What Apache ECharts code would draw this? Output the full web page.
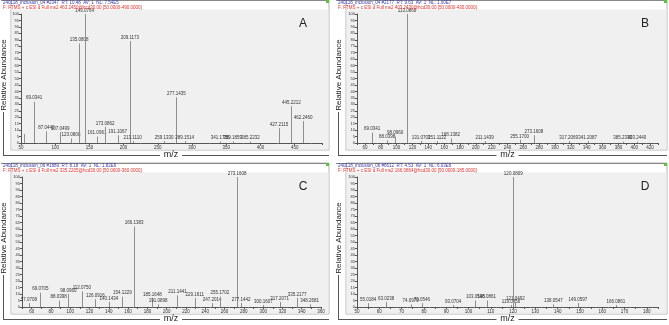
<!DOCTYPE html>
<html>
<head>
<meta charset="utf-8">
<script src="https://cdn.jsdelivr.net/npm/echarts@6/dist/echarts.min.js"></script>
<style>
  html, body { margin: 0; padding: 0; background: #fff; }
  #main { width: 669px; height: 325px; }
</style>
</head>
<body>
<div id="main"></div>
<script>
// panel A
const mzA = [55.06, 69.0341, 87.0440, 107.0499, 123.0808, 135.0808, 143.0764, 161.0961, 173.0862, 191.1067, 209.1173, 213.1110, 259.1330, 277.1435, 289.1514, 341.1756, 359.1859, 385.2232, 427.2115, 445.2212, 462.2460];
const abA = [7, 32, 9, 8.5, 3.5, 77, 100, 5, 12.5, 6, 79, 1.5, 1.5, 35.5, 1.5, 1.2, 1.2, 1.2, 11.5, 28.5, 17];
const lbA = ['', '69.0341', '87.0440', '107.0499', '123.0808', '135.0808', '143.0764', '161.0961', '173.0862', '191.1067', '209.1173', '213.1110', '259.1330', '277.1435', '289.1514', '341.1756', '359.1859', '385.2232', '427.2115', '445.2212', '462.2460'];

// panel B
const mzB = [69.0341, 88.0398, 98.0960, 113.0860, 131.0703, 151.1122, 168.1382, 211.1439, 255.1700, 273.1608, 317.2069, 341.2087, 385.2333, 403.2440];
const abB = [8, 2, 5, 100, 1.5, 1.5, 3.5, 1.5, 2.5, 6, 1.5, 1.5, 1, 1];
const lbB = ['69.0341', '88.0398', '98.0960', '113.0860', '131.0703', '151.1122', '168.1382', '211.1439', '255.1700', '273.1608', '317.2069', '341.2087', '385.2333', '403.2440'];

// panel C
const mzC = [57.0708, 69.0705, 88.0398, 98.0960, 112.0750, 126.0916, 140.1434, 154.1229, 166.1383, 185.1648, 191.0898, 211.1441, 229.1611, 247.2014, 255.1702, 273.1608, 277.1442, 300.1607, 317.2071, 335.2177, 348.2681];
const abC = [3, 11, 5, 10, 12, 6, 4, 8, 62, 7, 2, 9, 7, 3, 8, 100, 3, 1.5, 4, 7, 2];
const lbC = ['57.0708', '69.0705', '88.0398', '98.0960', '112.0750', '126.0916', '140.1434', '154.1229', '166.1383', '185.1648', '191.0898', '211.1441', '229.1611', '247.2014', '255.1702', '273.1608', '277.1442', '300.1607', '317.2071', '335.2177', '348.2681'];

// panel D
const mzD = [55.0184, 63.0238, 74.0970, 79.0546, 93.0704, 103.0546, 108.0861, 119.0856, 120.0809, 121.0492, 138.0547, 149.0597, 166.0861];
const abD = [3, 4, 2, 3, 1.5, 5, 5, 1.5, 100, 4, 2, 3, 1.5];
const lbD = ['55.0184', '63.0238', '74.0970', '79.0546', '93.0704', '103.0546', '108.0861', '119.0856', '120.0809', '121.0492', '138.0547', '149.0597', '166.0861'];

const headers = [
    ['240118_inclusion_04 #2347  RT: 10.48  AV: 1  NL: 7.54E5', 'F: FTMS + c ESI d Full ms2 463.2450@hcd30.00 [50.0000-490.0000]'],
    ['240118_inclusion_04 #2177  RT: 9.63  AV: 1  NL: 1.00E7', 'F: FTMS + c ESI d Full ms2 403.2430@hcd30.00 [50.0000-430.0000]'],
    ['240118_inclusion_06 #1889  RT: 8.18  AV: 1  NL: 1.82E6', 'F: FTMS + c ESI d Full ms2 335.2205@hcd30.00 [50.0000-360.0000]'],
    ['240118_inclusion_06 #6612  RT: 4.53  AV: 1  NL: 6.03E6', 'F: FTMS + c ESI d Full ms2 166.0864@hcd30.00 [50.0000-185.0000]']
];
const letters = ['A', 'B', 'C', 'D'];

const FONT = 'Liberation Sans';
let chart = echarts.init(document.getElementById('main'))

// panel frames: x, y (top of header), width, grey bottom, letter x
const frames = [
    { x: 11, y: 0, w: 318, bottom: 150, lx: 303 },
    { x: 346, y: 0, w: 321, bottom: 150, lx: 645 },
    { x: 11, y: 163, w: 318, bottom: 314, lx: 303 },
    { x: 346, y: 163, w: 321, bottom: 314, lx: 645 }
];
const grids = [
    { left: 21, top: 14, width: 301, height: 129 },
    { left: 357, top: 14, width: 301, height: 129 },
    { left: 22, top: 177, width: 299, height: 130 },
    { left: 357, top: 177, width: 301, height: 130 }
];

function xAx(gi, min, max, interval, every, first) {
    return {
        type: 'value', gridIndex: gi, min: min, max: max, interval: interval,
        axisLine: { lineStyle: { color: '#555', width: 1 } },
        axisTick: { length: 2, lineStyle: { color: '#555' } },
        minorTick: { show: true, splitNumber: 2, length: 1, lineStyle: { color: '#777' } },
        splitLine: { show: false },
        axisLabel: {
            fontSize: 4.5, color: '#333', margin: 2, fontFamily: FONT, interval: 0,
            formatter: v => (v >= first && v % every === 0) ? String(v) : ''
        }
    }
}
function yAx(gi) {
    return {
        type: 'value', gridIndex: gi, min: 0, max: 100, interval: 5,
        axisLine: { show: true, lineStyle: { color: '#555', width: 1 } },
        axisTick: { show: true, length: 2, lineStyle: { color: '#555' } },
        splitLine: { show: false },
        axisLabel: { fontSize: 4, color: '#333', margin: 2, fontFamily: FONT, interval: 0 }
    }
}
function peaks(gi, mz, ab, lb) {
    return {
        type: 'custom', xAxisIndex: gi, yAxisIndex: gi,
        data: mz.map((m, i) => [m, ab[i]]),
        renderItem: function (params, api) {
            const p0 = api.coord([api.value(0), 0]);
            const p1 = api.coord([api.value(0), api.value(1)]);
            const children = [{
                type: 'line',
                shape: { x1: Math.round(p0[0]) + 0.5, y1: p0[1], x2: Math.round(p1[0]) + 0.5, y2: p1[1] },
                style: { stroke: '#8f8f8f', lineWidth: 1 }
            }];
            const t = lb[params.dataIndex];
            if (t) {
                children.push({
                    type: 'text',
                    style: {
                        text: t, x: p1[0], y: p1[1] - 1, align: 'center', verticalAlign: 'bottom',
                        fontSize: 4.5, fill: '#333', fontFamily: FONT
                    }
                });
            }
            return { type: 'group', children: children };
        }
    }
}

let graphic = [];
frames.forEach((f, i) => {
    graphic.push({ type: 'rect', z: -2, shape: { x: f.x, y: f.y, width: f.w, height: f.bottom - f.y }, style: { fill: '#fff', stroke: '#b5b5b5', lineWidth: 1 } });
    graphic.push({ type: 'rect', z: -1, shape: { x: f.x + 0.5, y: f.y + 9.5, width: f.w - 1, height: f.bottom - f.y - 10 }, style: { fill: '#f0f0f0' } });
    graphic.push({ type: 'line', z: -1, shape: { x1: f.x - 10, y1: f.y + 0.5, x2: f.x + f.w, y2: f.y + 0.5 }, style: { stroke: '#888', lineWidth: 1 } });
    graphic.push({ type: 'rect', z: 5, shape: { x: f.x + f.w - 3, y: f.y, width: 3, height: 3 }, style: { fill: '#5cc43c' } });
    graphic.push({ type: 'text', z: 5, style: { text: headers[i][0], x: f.x - 8, y: f.y + 3, verticalAlign: 'middle', fontSize: 4.5, fill: '#3a3aa8', fontFamily: FONT } });
    graphic.push({ type: 'text', z: 5, style: { text: headers[i][1], x: f.x - 8, y: f.y + 7.5, verticalAlign: 'middle', fontSize: 4.5, fill: '#e0302a', fontFamily: FONT } });
    graphic.push({ type: 'text', z: 5, style: { text: letters[i], x: f.lx, y: f.y + 24, align: 'center', verticalAlign: 'middle', fontSize: 12, fill: '#222', fontFamily: FONT } });
    // y title and bracket
    const lx = f.x - 8;
    const ymid = (i < 2) ? 75 : 238;
    const base = f.bottom + 5;
    graphic.push({ type: 'text', z: 5, rotation: Math.PI / 2, x: lx + 0.5, y: ymid, style: { text: 'Relative Abundance', align: 'center', verticalAlign: 'middle', fontSize: 8, fill: '#222', fontFamily: FONT } });
    graphic.push({ type: 'line', z: 5, shape: { x1: lx + 0.5, y1: ymid + 37, x2: lx + 0.5, y2: base }, style: { stroke: '#555', lineWidth: 1 } });
    graphic.push({ type: 'line', z: 5, shape: { x1: lx, y1: base + 0.5, x2: f.x + f.w / 2 - 10, y2: base + 0.5 }, style: { stroke: '#555', lineWidth: 1 } });
    graphic.push({ type: 'line', z: 5, shape: { x1: f.x + f.w / 2 + 12, y1: base + 0.5, x2: f.x + f.w, y2: base + 0.5 }, style: { stroke: '#555', lineWidth: 1 } });
    graphic.push({ type: 'text', z: 5, style: { text: 'm/z', x: f.x + f.w / 2 + 1, y: base, align: 'center', verticalAlign: 'middle', fontSize: 9, fill: '#222', fontFamily: FONT } });
});

chart.setOption({
    animation: false,
    backgroundColor: '#fff',
    grid: grids,
    xAxis: [
        xAx(0, 50, 490, 50, 50, 50),
        xAx(1, 50, 430, 10, 20, 60),
        xAx(2, 50, 360, 10, 20, 60),
        xAx(3, 50, 185, 5, 10, 50)
    ],
    yAxis: [yAx(0), yAx(1), yAx(2), yAx(3)],
    series: [
        peaks(0, mzA, abA, lbA),
        peaks(1, mzB, abB, lbB),
        peaks(2, mzC, abC, lbC),
        peaks(3, mzD, abD, lbD)
    ],
    graphic: graphic
})
</script>
</body>
</html>
